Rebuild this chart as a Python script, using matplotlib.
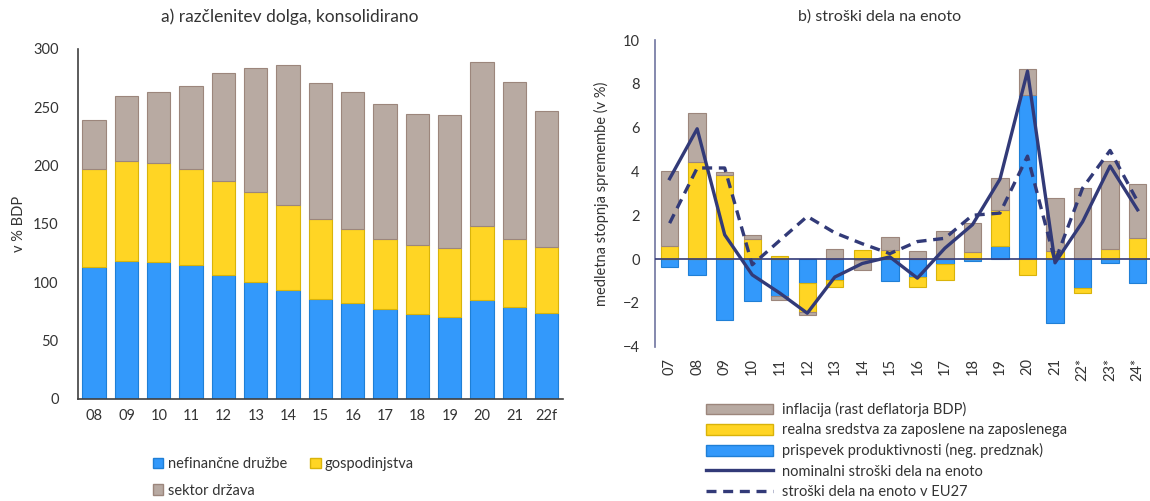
import numpy as np
import matplotlib
matplotlib.use("Agg")
import matplotlib.pyplot as plt
from matplotlib.patches import Patch
from matplotlib.lines import Line2D

plt.rcParams['font.family'] = ['Lato', 'DejaVu Sans']
plt.rcParams['font.size'] = 10

# a) razčlenitev dolga
leta_a = ['08', '09', '10', '11', '12', '13', '14', '15', '16', '17', '18', '19', '20', '21', '22f']
nefinancne = [113, 118.5, 117, 115, 106.5, 100, 93, 86, 82.5, 77, 72.5, 70.5, 84.5, 79, 74]
gospodinjstva = [84, 85.5, 85, 82, 80.5, 77, 73, 68, 63.5, 60, 59.5, 58.5, 63.5, 58, 56.5]
drzava = [42, 56, 61, 71, 92, 107, 120, 116.5, 117, 116, 112.5, 114, 141, 135, 116]

# b) stroški dela na enoto
leta_b = ['07', '08', '09', '10', '11', '12', '13', '14', '15', '16', '17', '18', '19', '20', '21', '22*', '23*', '24*']
inflacija = [3.45, 2.24, 0.14, 0.18, -0.16, -0.15, 0.47, -0.45, 0.56, 0.38, 1.26, 1.32, 1.44, 1.21, 2.40, 3.23, 4.06, 2.44]
realna = [0.58, 4.43, 3.82, 0.90, 0.12, -1.32, -0.35, 0.40, 0.43, -0.49, -0.71, 0.32, 1.62, -0.73, 0.37, -0.23, 0.44, 0.97]
produktivnost = [-0.37, -0.73, -2.77, -1.93, -1.70, -1.10, -0.94, -0.06, -1.02, -0.80, -0.23, -0.10, 0.62, 7.49, -2.91, -1.34, -0.20, -1.08]
nominalni = [3.67, 5.95, 1.11, -0.72, -1.55, -2.47, -0.82, -0.20, 0.10, -0.87, 0.50, 1.57, 3.65, 8.58, -0.17, 1.70, 4.25, 2.25]
eu27 = [1.64, 4.16, 4.16, -0.26, 0.85, 1.95, 1.20, 0.70, 0.25, 0.80, 0.95, 2.00, 2.10, 4.70, -0.10, 3.24, 4.96, 2.63]

c_blue, e_blue = '#3399fb', '#1f7fd6'
c_yel, e_yel = '#ffd524', '#d9b30a'
c_gray, e_gray = '#b8aaa2', '#9c867c'
navy = '#323a78'
txt = '#333333'

fig = plt.figure(figsize=(11.5, 5.01), dpi=100)

# ---------- left chart ----------
ax1 = fig.add_axes([0.0678, 0.2036, 0.4217, 0.6986])
x1 = np.arange(len(leta_a))
w1 = 0.72
b1 = np.array(nefinancne)
b2 = b1 + np.array(gospodinjstva)
ax1.bar(x1, nefinancne, w1, color=c_blue, edgecolor=e_blue, linewidth=0.8)
ax1.bar(x1, gospodinjstva, w1, bottom=b1, color=c_yel, edgecolor=e_yel, linewidth=0.8)
ax1.bar(x1, drzava, w1, bottom=b2, color=c_gray, edgecolor=e_gray, linewidth=0.8)
ax1.set_xlim(-0.5, 14.5)
ax1.set_ylim(0, 300)
ax1.set_yticks(range(0, 301, 50))
ax1.set_xticks(x1)
ax1.set_xticklabels(leta_a)
ax1.tick_params(axis='y', length=0, pad=14, labelsize=10.5, colors=txt)
ax1.tick_params(axis='x', length=0, pad=7, labelsize=10.5, colors=txt)
for s in ['top', 'right']:
    ax1.spines[s].set_visible(False)
ax1.spines['left'].set_color('#404040')
ax1.spines['bottom'].set_color('#404040')
ax1.spines['left'].set_linewidth(1.2)
ax1.spines['bottom'].set_linewidth(1.2)
ax1.set_ylabel('v % BDP', fontsize=10.5, color=txt, labelpad=5)
fig.text(290 / 1150, 1 - 17 / 501, 'a) razčlenitev dolga, konsolidirano', ha='center', va='center',
         fontsize=12.5, color=txt)

h_a = [Patch(facecolor=c_blue, edgecolor=e_blue), Patch(facecolor=c_gray, edgecolor=e_gray),
       Patch(facecolor=c_yel, edgecolor=e_yel)]
fig.legend(h_a, ['nefinančne družbe', 'sektor država', 'gospodinjstva'], ncol=2,
           loc='upper left', bbox_to_anchor=(140 / 1150, 1 - 444 / 501), frameon=False,
           handlelength=0.7, handleheight=0.7, handletextpad=0.3, columnspacing=1.6,
           labelspacing=0.85, fontsize=10.5, labelcolor=txt)

# ---------- right chart ----------
ax2 = fig.add_axes([0.5696, 0.308, 0.4304, 0.612])
x2 = np.arange(len(leta_b))
w2 = 0.63
pos_bot = np.zeros(len(leta_b))
neg_bot = np.zeros(len(leta_b))
for vals, fc, ec in [(produktivnost, c_blue, e_blue), (realna, c_yel, e_yel), (inflacija, c_gray, e_gray)]:
    v = np.array(vals)
    bot = np.where(v >= 0, pos_bot, neg_bot)
    ax2.bar(x2, v, w2, bottom=bot, color=fc, edgecolor=ec, linewidth=0.8)
    pos_bot = pos_bot + np.where(v >= 0, v, 0)
    neg_bot = neg_bot + np.where(v < 0, v, 0)
ax2.axhline(0, color=navy, linewidth=1.2, zorder=3)
ax2.plot(x2, nominalni, color=navy, linewidth=2.4, zorder=4)
ax2.plot(x2, eu27, color=navy, linewidth=2.4, linestyle=(0, (3, 2)), zorder=4)
ax2.set_xlim(-0.53, 17.45)
ax2.set_ylim(-4, 10)
ax2.set_yticks(range(-4, 11, 2))
ax2.set_xticks(x2)
ax2.set_xticklabels(leta_b, rotation=90)
ax2.tick_params(axis='y', length=0, pad=11, labelsize=10.5, colors=txt)
ax2.tick_params(axis='x', length=0, pad=8, labelsize=10.5, colors=txt)
for s in ['top', 'right', 'bottom']:
    ax2.spines[s].set_visible(False)
ax2.spines['left'].set_color('#6f74a0')
ax2.spines['left'].set_linewidth(1.2)
ax2.set_ylabel('medletna stopnja spremembe (v %)', fontsize=10.5, color=txt, labelpad=10)
fig.text(880 / 1150, 1 - 17 / 501, 'b) stroški dela na enoto', ha='center', va='center',
         fontsize=11.5, color=txt)

h_b = [Patch(facecolor=c_gray, edgecolor=e_gray), Patch(facecolor=c_yel, edgecolor=e_yel),
       Patch(facecolor=c_blue, edgecolor=e_blue),
       Line2D([], [], color=navy, linewidth=2.4),
       Line2D([], [], color=navy, linewidth=2.4, linestyle=(0, (3, 2)))]
fig.legend(h_b, ['inflacija (rast deflatorja BDP)', 'realna sredstva za zaposlene na zaposlenega',
                 'prispevek produktivnosti (neg. predznak)', 'nominalni stroški dela na enoto',
                 'stroški dela na enoto v EU27'],
           loc='upper left', bbox_to_anchor=(693 / 1150, 1 - 389 / 501), frameon=False,
           handlelength=4.6, handleheight=0.75, handletextpad=0.6, labelspacing=0.42,
           fontsize=10.5, labelcolor=txt)

fig.savefig('out.png', dpi=100)
